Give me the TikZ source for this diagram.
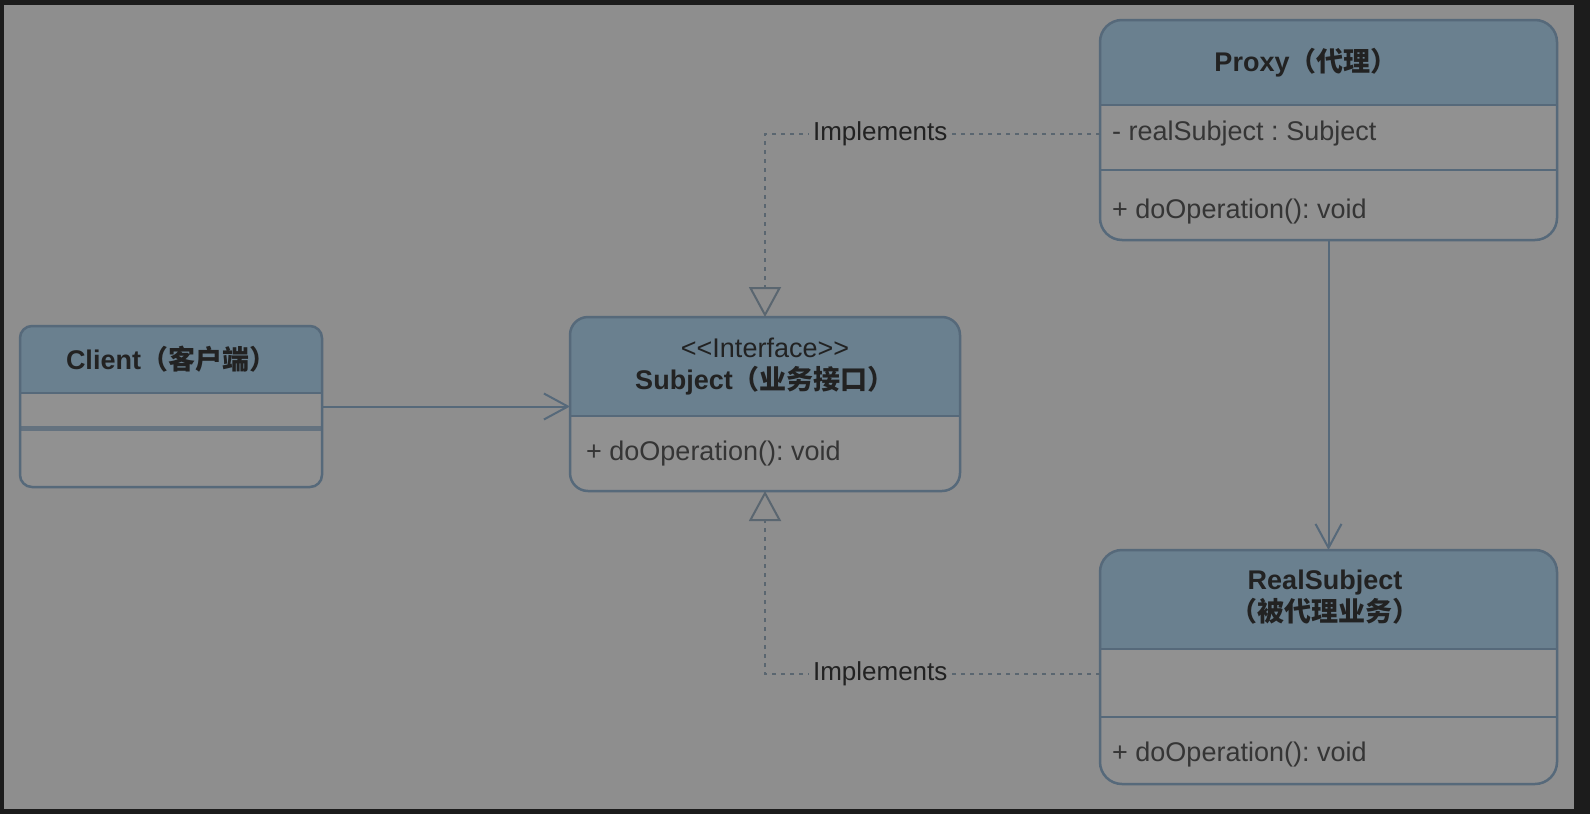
\documentclass[tikz,border=0pt]{standalone}
\usepackage{fontspec}
\setmainfont{Liberation Sans}
\newfontfamily\cjk{Noto Sans CJK SC}
\usetikzlibrary{arrows.meta}
\frenchspacing
\definecolor{framec}{HTML}{1C1C1C}
\definecolor{bgc}{HTML}{8E8E8E}
\definecolor{bodyc}{HTML}{919191}
\definecolor{hdrc}{HTML}{6A808F}
\definecolor{edgec}{HTML}{56697A}
\definecolor{txtc}{HTML}{222222}
\definecolor{membc}{HTML}{353535}
\definecolor{dashc}{HTML}{5A6670}
\tikzset{
  classbox/.style={rectangle, inner sep=0pt, outer sep=0pt, fill=bodyc, draw=none},
  border/.style={draw=edgec, line width=2.5pt},
  sepline/.style={draw=edgec, line width=2pt},
  thinsep/.style={draw=edgec, line width=1.3pt},
  title/.style={font=\fontsize{27}{32}\selectfont\bfseries\frenchspacing, text=txtc, align=center, inner sep=0pt},
  member/.style={font=\fontsize{27}{32}\selectfont\frenchspacing, text=membc, anchor=west, inner sep=0pt},
  assoc/.style={draw=edgec, line width=2pt, -{Straight Barb[length=24pt,width=26pt,line width=2pt]}},
  realize/.style={draw=dashc, line width=2pt, dash pattern=on 4pt off 5pt,
    -{Triangle[open, length=30pt, width=32pt, line width=2pt]}},
  lbl/.style={font=\fontsize{26}{30}\selectfont, text=txtc, fill=bgc, inner xsep=4pt, inner ysep=1pt}
}
\begin{document}
\begin{tikzpicture}[x=1pt,y=-1pt]
\fill[framec] (0,0) rectangle (1590,814);
\fill[bgc] (4,5) rectangle (1574,809);
\useasboundingbox (0,0) rectangle (1590,814);

% ---------- Client ----------
\node[classbox, minimum width=302pt, minimum height=161pt, rounded corners=12pt] (client) at (171,406.5) {};
\begin{scope}
  \clip[rounded corners=12pt] (client.north west) rectangle (client.south east);
  \fill[hdrc] (client.north west) rectangle (client.east |- 0,393);
\end{scope}
\draw[sepline] (client.west |- 0,393) -- (client.east |- 0,393);
\draw[draw=edgec!75!bgc, line width=5pt] (client.west |- 0,428) -- (client.east |- 0,428);
\draw[border, rounded corners=12pt] (client.north west) rectangle (client.south east);
\node[title] (clientT) at (171,359) {Client{\cjk （客户端）}};

% ---------- Subject ----------
\node[classbox, minimum width=390pt, minimum height=174pt, rounded corners=18pt] (subject) at (765,404) {};
\begin{scope}
  \clip[rounded corners=18pt] (subject.north west) rectangle (subject.south east);
  \fill[hdrc] (subject.north west) rectangle (subject.east |- 0,416);
\end{scope}
\draw[sepline] (subject.west |- 0,416) -- (subject.east |- 0,416);
\draw[border, rounded corners=18pt] (subject.north west) rectangle (subject.south east);
\node[title] (subjectT) at (765,367) {{\mdseries\textless\kern0pt\textless\kern0pt Interface\kern0pt\textgreater\kern0pt\textgreater}\\Subject{\cjk （业务接口）}};
\node[member] (subjectOp) at (586,454) {+ doOperation(): void};

% ---------- Proxy ----------
\node[classbox, minimum width=457pt, minimum height=220pt, rounded corners=22pt] (proxy) at (1328.5,130) {};
\begin{scope}
  \clip[rounded corners=22pt] (proxy.north west) rectangle (proxy.south east);
  \fill[hdrc] (proxy.north west) rectangle (proxy.east |- 0,105);
\end{scope}
\draw[sepline] (proxy.west |- 0,105) -- (proxy.east |- 0,105);
\draw[thinsep] (proxy.west |- 0,170) -- (proxy.east |- 0,170);
\draw[border, rounded corners=22pt] (proxy.north west) rectangle (proxy.south east);
\node[title] (proxyT) at (1306,63) {Proxy{\cjk （代理）}};
\node[member] (proxyAttr) at (1112,134) {- realSubject : Subject};
\node[member] (proxyOp) at (1112,212) {+ doOperation(): void};

% ---------- RealSubject ----------
\node[classbox, minimum width=457pt, minimum height=234pt, rounded corners=22pt] (real) at (1328.5,667) {};
\begin{scope}
  \clip[rounded corners=22pt] (real.north west) rectangle (real.south east);
  \fill[hdrc] (real.north west) rectangle (real.east |- 0,649);
\end{scope}
\draw[sepline] (real.west |- 0,649) -- (real.east |- 0,649);
\draw[sepline] (real.west |- 0,717) -- (real.east |- 0,717);
\draw[border, rounded corners=22pt] (real.north west) rectangle (real.south east);
\node[title] (realT) at (1325,597) {RealSubject\\{\cjk （被代理业务）}};
\node[member] (realOp) at (1112,755) {+ doOperation(): void};

% ---------- Connectors ----------
\draw[assoc] (client.east) -- (client.east -| subject.west);
\draw[assoc] (proxy.south) -- (real.north);
\draw[realize] (proxy.west |- proxyAttr) -| (subject.north)
  node[lbl, pos=0.328] (implTop) {Implements};
\draw[realize] ([yshift=-7pt]real.west) -| (subject.south)
  node[lbl, pos=0.328] (implBot) {Implements};
\end{tikzpicture}
\end{document}
